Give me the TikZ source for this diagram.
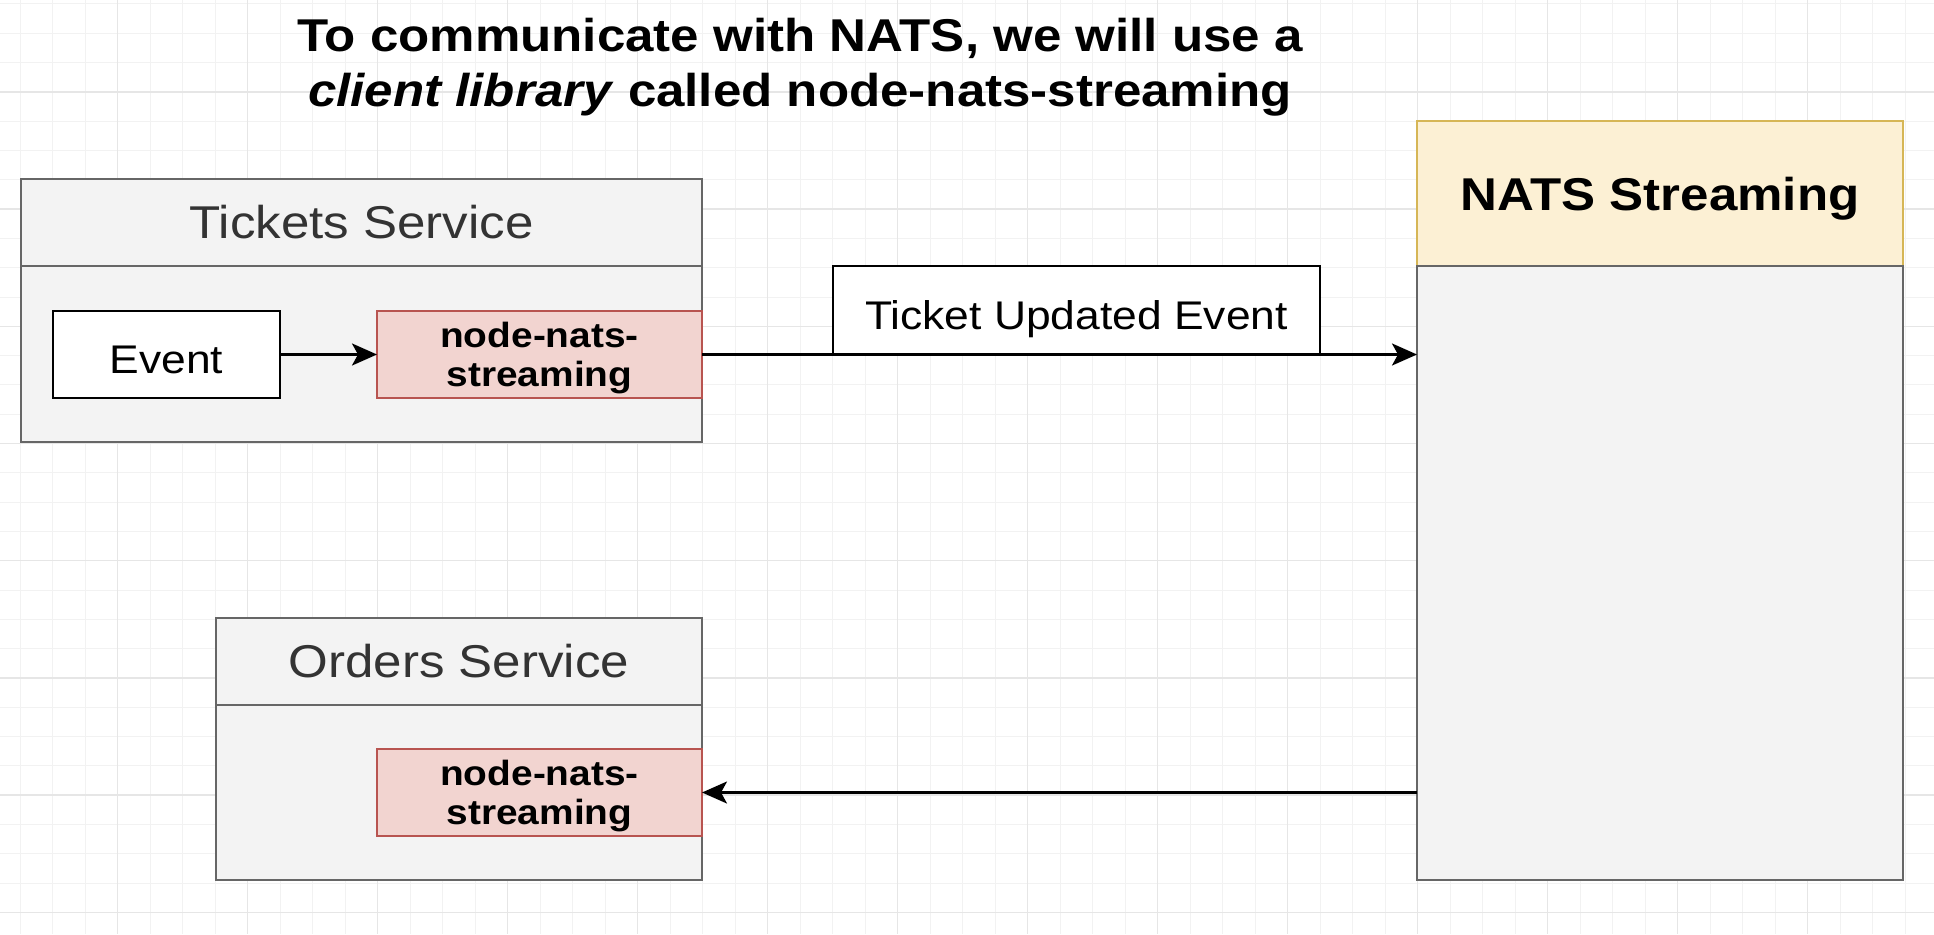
\documentclass[tikz,border=0pt]{standalone}
\usepackage{fontspec}
\setmainfont{Liberation Sans}[FakeStretch=1.11]
\usepackage{tikz}
\usetikzlibrary{positioning,arrows.meta}

\definecolor{gridminor}{HTML}{F2F2F2}
\definecolor{gridmajor}{HTML}{E6E6E6}
\definecolor{svcfill}{HTML}{F3F3F3}
\definecolor{svcline}{HTML}{666666}
\definecolor{libfill}{HTML}{F2D4D0}
\definecolor{libline}{HTML}{B85450}
\definecolor{natsfill}{HTML}{FCF0D4}
\definecolor{natsline}{HTML}{D6B656}

\begin{document}
\begin{tikzpicture}[x=1pt,y=-1pt,inner sep=0pt,outer sep=0pt,
  header/.style={draw=svcline,fill=svcfill,line width=2.5pt,text=black!80,
    font=\fontsize{46}{50}\selectfont},
  body/.style={draw=svcline,fill=svcfill,line width=2.5pt},
  evbox/.style={draw=black,fill=white,line width=2.5pt,text height=38pt,text depth=0pt,
    font=\fontsize{40}{44}\selectfont},
  lib/.style={draw=libline,fill=libfill,line width=2pt,align=center,text depth=0pt,
    minimum width=325pt,minimum height=87pt,
    font=\bfseries\fontsize{35}{39.5}\selectfont},
  arr/.style={-{Stealth[length=25pt,width=22pt,inset=6pt]},line width=2.5pt}]

\useasboundingbox (0,0) rectangle (1934,934);
\fill[white] (0,0) rectangle (1934,934);
% background grid
\foreach \gx in {20,52.5,...,1934} \draw[gridminor,line width=1pt] (\gx,0) -- (\gx,934);
\foreach \gy in {4,33.3,...,934} \draw[gridminor,line width=1pt] (0,\gy) -- (1934,\gy);
\foreach \gx in {117.5,247.5,...,1934} \draw[gridmajor,line width=1.5pt] (\gx,0) -- (\gx,934);
\foreach \gy in {91.9,209.1,...,934} \draw[gridmajor,line width=1.5pt] (0,\gy) -- (1934,\gy);

\node[align=center,font=\bfseries\fontsize{46}{55}\selectfont] (TT) at (800,67.5)
  {To communicate with NATS, we will use a\\\textit{client library} called node-nats-streaming};

% tickets service
\node[header,anchor=north west,minimum width=681pt,minimum height=87pt] (TSh) at (21,179) {Tickets Service};
\node[body,below=0pt of TSh,minimum width=681pt,minimum height=176pt] (TSb) {};
\node[evbox,anchor=north west,minimum width=227pt,minimum height=87pt] (EV) at (53,311) {Event};
\node[lib,anchor=north west] (L1) at (377,311) {node-nats-\\streaming};

% orders service
\node[header,anchor=north west,minimum width=486pt,minimum height=87pt] (OSh) at (216,618) {Orders Service};
\node[body,below=0pt of OSh,minimum width=486pt,minimum height=175pt] (OSb) {};
\node[lib,anchor=north west] (L2) at (377,749) {node-nats-\\streaming};

% nats streaming
\node[draw=natsline,fill=natsfill,line width=2pt,anchor=north west,minimum width=486pt,minimum height=145pt,
  text depth=0pt,font=\bfseries\fontsize{46}{50}\selectfont] (NH) at (1417,121) {NATS Streaming};
\node[body,below=0pt of NH,minimum width=486pt,minimum height=614pt] (NB) {};

\node[evbox,anchor=south west,minimum width=487pt,minimum height=88pt] (TU) at (833,354) {Ticket Updated Event};

\draw[arr] (EV) -- (L1);
\draw[arr] (L1.east) -- (L1.east -| NB.west);
\draw[arr] (L2.east -| NB.west) -- (L2.east);
\end{tikzpicture}
\end{document}
